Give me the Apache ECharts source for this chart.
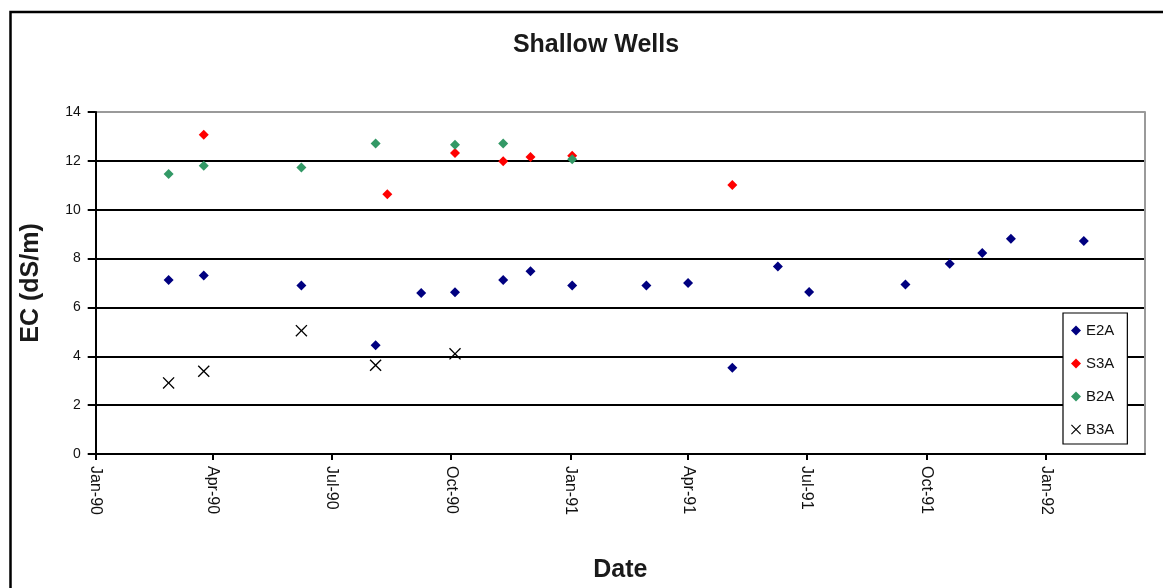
<!DOCTYPE html>
<html>
<head>
<meta charset="utf-8">
<script src="https://cdn.jsdelivr.net/npm/echarts@6/dist/echarts.min.js"></script>
<style>
  html, body { margin: 0; padding: 0; background: #ffffff; }
  #chart { width: 1163px; height: 588px; }
</style>
</head>
<body>
<div id="chart"></div>
<script>
// Quarterly ticks on the date axis
const tickDates  = ['1990-01-01', '1990-04-01', '1990-07-01', '1990-10-01', '1991-01-01',
                    '1991-04-01', '1991-07-01', '1991-10-01', '1992-01-01'];
const tickLabels = ['Jan-90', 'Apr-90', 'Jul-90', 'Oct-90', 'Jan-91',
                    'Apr-91', 'Jul-91', 'Oct-91', 'Jan-92'];

// EC readings (dS/m) per well
const e2aDates  = ['1990-02-26', '1990-03-25', '1990-06-08', '1990-08-04', '1990-09-08', '1990-10-04',
                   '1990-11-10', '1990-12-01', '1991-01-02', '1991-02-28', '1991-04-01', '1991-05-05',
                   '1991-06-09', '1991-07-03', '1991-09-15', '1991-10-19', '1991-11-13', '1991-12-05',
                   '1992-01-30'];
const e2aValues = [7.12, 7.31, 6.90, 4.45, 6.59, 6.62,
                   7.12, 7.48, 6.90, 6.90, 7.00, 3.53,
                   7.68, 6.63, 6.94, 7.79, 8.23, 8.81,
                   8.72];

const s3aDates  = ['1990-03-25', '1990-08-13', '1990-10-04', '1990-11-10', '1990-12-01', '1991-01-02', '1991-05-05'];
const s3aValues = [13.07, 10.63, 12.32, 11.98, 12.16, 12.21, 11.01];

const b2aDates  = ['1990-02-26', '1990-03-25', '1990-06-08', '1990-08-04', '1990-10-04', '1990-11-10', '1991-01-02'];
const b2aValues = [11.46, 11.80, 11.73, 12.71, 12.66, 12.71, 12.07];

const b3aDates  = ['1990-02-26', '1990-03-25', '1990-06-08', '1990-08-04', '1990-10-04'];
const b3aValues = [2.91, 3.39, 5.05, 3.63, 4.10];

const axisStart = '1990-01-01';
const axisEnd   = '1992-03-17';

function toTime(s) {
  const [y, m, d] = s.split('-').map(Number);
  return Date.UTC(y, m - 1, d);
}
function pairs(dates, values) {
  return dates.map((d, i) => [toTime(d), values[i]]);
}

const tickTimes = tickDates.map(toTime);
const FONT = "'Liberation Sans', Arial, sans-serif";
// filled "x" marker
const CROSS = 'path://M0,0.8L0.8,0L5,4.2L9.2,0L10,0.8L5.8,5L10,9.2L9.2,10L5,5.8L0.8,10L0,9.2L4.2,5Z';

const chart = echarts.init(document.getElementById('chart'), null, { renderer: 'canvas' });

chart.setOption({
  animation: false,
  backgroundColor: '#ffffff',
  textStyle: { fontFamily: FONT },
  title: {
    text: 'Shallow Wells',
    left: 591,
    top: 28,
    textAlign: 'center',
    textStyle: { fontFamily: FONT, fontSize: 25, fontWeight: 'bold', color: '#1a1a1a' }
  },
  graphic: [{
    type: 'rect',
    shape: { x: 10.5, y: 12, width: 1300, height: 800 },
    style: { fill: 'none', stroke: '#000000', lineWidth: 2.5 },
    silent: true,
    z: 100
  }],
  grid: { left: 95.7, right: 18, top: 112, bottom: 133.7 },
  legend: {
    orient: 'vertical',
    left: 1063,
    top: 313,
    padding: [9, 13, 6, 8],
    itemGap: 16,
    itemWidth: 10,
    itemHeight: 10,
    backgroundColor: '#ffffff',
    borderColor: '#000000',
    borderWidth: 1.2,
    textStyle: { fontFamily: FONT, fontSize: 15, color: '#111', lineHeight: 17 },
    data: [
      { name: 'E2A', icon: 'diamond' },
      { name: 'S3A', icon: 'diamond' },
      { name: 'B2A', icon: 'diamond' },
      { name: 'B3A', icon: CROSS }
    ]
  },
  xAxis: {
    type: 'value',
    min: toTime(axisStart),
    max: toTime(axisEnd),
    name: 'Date',
    nameLocation: 'middle',
    nameGap: 104,
    nameTextStyle: { fontFamily: FONT, fontSize: 25, fontWeight: 'bold', color: '#1a1a1a' },
    axisLine: { show: true, lineStyle: { color: '#000', width: 2 } },
    axisTick: { show: true, customValues: tickTimes, length: 6, lineStyle: { color: '#000', width: 2 } },
    axisLabel: {
      customValues: tickTimes,
      rotate: -90,
      margin: 12,
      fontFamily: FONT,
      fontSize: 16,
      color: '#111',
      formatter: function (value) {
        const i = tickTimes.indexOf(value);
        return i >= 0 ? tickLabels[i] : '';
      }
    },
    splitLine: { show: false }
  },
  yAxis: [{
    type: 'value',
    min: 0,
    max: 14,
    interval: 2,
    name: 'EC (dS/m)',
    nameLocation: 'middle',
    nameGap: 52,
    nameTextStyle: { fontFamily: FONT, fontSize: 25, fontWeight: 'bold', color: '#1a1a1a' },
    axisLine: { show: true, lineStyle: { color: '#000', width: 2 } },
    axisTick: { show: true, length: 8, lineStyle: { color: '#000', width: 2 } },
    axisLabel: { margin: 15, fontFamily: FONT, fontSize: 14, color: '#111' },
    splitLine: {
      show: true,
      lineStyle: { color: ['#000', '#000', '#000', '#000', '#000', '#000', '#000', '#9a9a9a'], width: 2 }
    }
  }, {
    type: 'value',
    min: 0,
    max: 14,
    interval: 2,
    position: 'right',
    axisLine: { show: true, lineStyle: { color: '#9a9a9a', width: 2 } },
    axisTick: { show: false },
    axisLabel: { show: false },
    splitLine: { show: false }
  }],
  series: [
    {
      name: 'E2A', type: 'scatter', symbol: 'diamond', symbolSize: 10,
      itemStyle: { color: '#000080', opacity: 1 },
      data: pairs(e2aDates, e2aValues)
    },
    {
      name: 'S3A', type: 'scatter', symbol: 'diamond', symbolSize: 10,
      itemStyle: { color: '#ff0000', opacity: 1 },
      data: pairs(s3aDates, s3aValues)
    },
    {
      name: 'B2A', type: 'scatter', symbol: 'diamond', symbolSize: 10,
      itemStyle: { color: '#339966', opacity: 1 },
      data: pairs(b2aDates, b2aValues)
    },
    {
      name: 'B3A', type: 'scatter', symbol: CROSS, symbolSize: 12,
      itemStyle: { color: '#000000', opacity: 1 },
      data: pairs(b3aDates, b3aValues)
    }
  ]
});
</script>
</body>
</html>
